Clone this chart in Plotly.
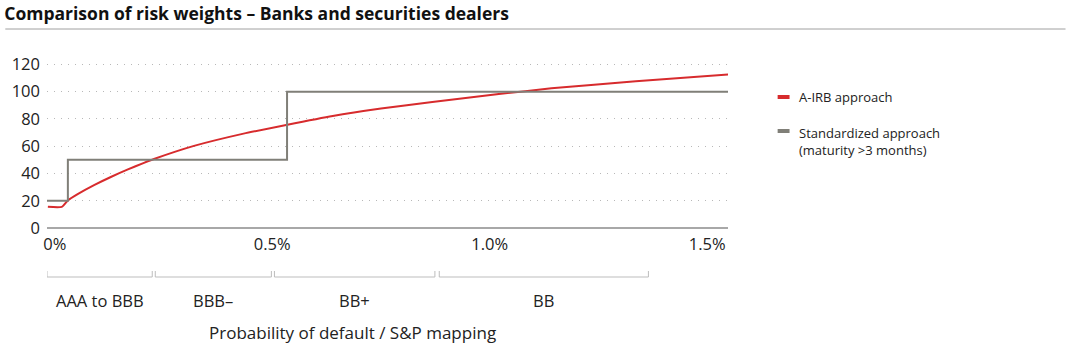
import plotly.graph_objects as go

# ---- data ----
irb_pd = [-0.016, 0.016, 0.030, 0.0525, 0.0913, 0.130, 0.1667, 0.205, 0.228, 0.320, 0.434,
          0.532, 0.639, 0.750, 0.868, 1.021, 1.142, 1.336, 1.552]
irb_rw = [15.5, 15.5, 20.2, 24.8, 31.6, 37.6, 42.8, 47.8, 50.6, 60.2, 69.2,
          75.6, 82.2, 87.6, 92.4, 98.2, 102.4, 107.6, 112.6]

std_pd = [-0.018, 0.03, 0.03, 0.534, 0.534, 1.548]
std_rw = [20, 20, 50, 50, 100, 100]

x_tickvals = [0.0, 0.5, 1.0, 1.5]
x_ticktext = ["0%", "0.5%", "1.0%", "1.5%"]
y_tickvals = [0, 20, 40, 60, 80, 100, 120]

bracket_names = ["AAA to BBB", "BBB\u2013", "BB+", "BB"]
bracket_start = [-0.018, 0.231, 0.505, 0.884]
bracket_end = [0.224, 0.498, 0.874, 1.365]

RED = "#d72b2d"
GRAY = "#807f78"
FONT = "Open Sans"

fig = go.Figure()
fig.add_trace(go.Scatter(x=irb_pd, y=irb_rw, mode="lines", name="A-IRB approach",
                         line=dict(color=RED, width=2, shape="spline", smoothing=0.5),
                         showlegend=False, cliponaxis=False))
fig.add_trace(go.Scatter(x=std_pd, y=std_rw, mode="lines",
                         name="Standardized approach (maturity >3 months)",
                         line=dict(color=GRAY, width=2), showlegend=False))

L, R, T, B = 42, 340, 63, 123
W, H = 1068, 351
pw, ph = W - L - R, H - T - B

def px2paper_x(px):
    return (px - L) / pw

def px2paper_y(py):
    return (H - B - py) / ph

shapes = []
annotations = []
for name, a, b in zip(bracket_names, bracket_start, bracket_end):
    y0 = px2paper_y(271)
    y1 = px2paper_y(277)
    shapes.append(dict(type="path", xref="x", yref="paper",
                       path=f"M {a},{y0} L {a},{y1} L {b},{y1} L {b},{y0}",
                       line=dict(color="#bdbdbd", width=1)))
    annotations.append(dict(x=(a + b) / 2, y=px2paper_y(300), xref="x", yref="paper",
                            text=name, showarrow=False, xanchor="center", yanchor="middle",
                            font=dict(family=FONT, size=16.5, color="#222")))

# title rule
shapes.append(dict(type="line", xref="paper", yref="paper",
                   x0=px2paper_x(0), x1=px2paper_x(W), y0=px2paper_y(29), y1=px2paper_y(29),
                   line=dict(color="#a0a0a0", width=1)))

# manual legend
for col, py in [(RED, 97), (GRAY, 131)]:
    shapes.append(dict(type="line", xref="paper", yref="paper",
                       x0=px2paper_x(778), x1=px2paper_x(790), y0=px2paper_y(py), y1=px2paper_y(py),
                       line=dict(color=col, width=4)))
annotations.append(dict(x=px2paper_x(798), y=px2paper_y(97), xref="paper", yref="paper",
                        text="A-IRB approach", showarrow=False, xanchor="left", yanchor="middle",
                        font=dict(family=FONT, size=13, color="#222")))
annotations.append(dict(x=px2paper_x(798), y=px2paper_y(122), xref="paper", yref="paper",
                        text="Standardized approach<br>(maturity >3 months)", showarrow=False,
                        xanchor="left", yanchor="top", align="left",
                        font=dict(family=FONT, size=13, color="#222")))

# axis title
annotations.append(dict(x=px2paper_x(350), y=px2paper_y(332), xref="paper", yref="paper",
                        text="Probability of default / S&P mapping", showarrow=False,
                        xanchor="center", yanchor="middle",
                        font=dict(family=FONT, size=17, color="#222")))

fig.update_layout(
    width=W, height=H,
    margin=dict(l=L, r=R, t=T, b=B, pad=0),
    paper_bgcolor="white", plot_bgcolor="white",
    font=dict(family=FONT, color="#222"),
    title=dict(text="<b>Comparison of risk weights \u2013 Banks and securities dealers</b>",
               x=0.004, xref="container", xanchor="left",
               y=1 - 14 / H, yref="container", yanchor="middle",
               font=dict(family=FONT, size=17.5, color="#111")),
    shapes=shapes, annotations=annotations,
    xaxis=dict(range=[-0.018, 1.548], tickvals=x_tickvals, ticktext=x_ticktext,
               showgrid=False, zeroline=False, showline=False, ticks="",
               ticklabelstandoff=4, tickfont=dict(family=FONT, size=16.5, color="#222")),
    yaxis=dict(range=[0, 121], tickvals=y_tickvals, showgrid=True, gridcolor="#b8b8b8",
               griddash="1px,6px", gridwidth=1, zeroline=True, zerolinecolor="#a8a8a8",
               zerolinewidth=1.5, showline=False, ticks="", ticklabelstandoff=6,
               tickfont=dict(family=FONT, size=16.5, color="#222")),
)

fig.write_html("out.html")
